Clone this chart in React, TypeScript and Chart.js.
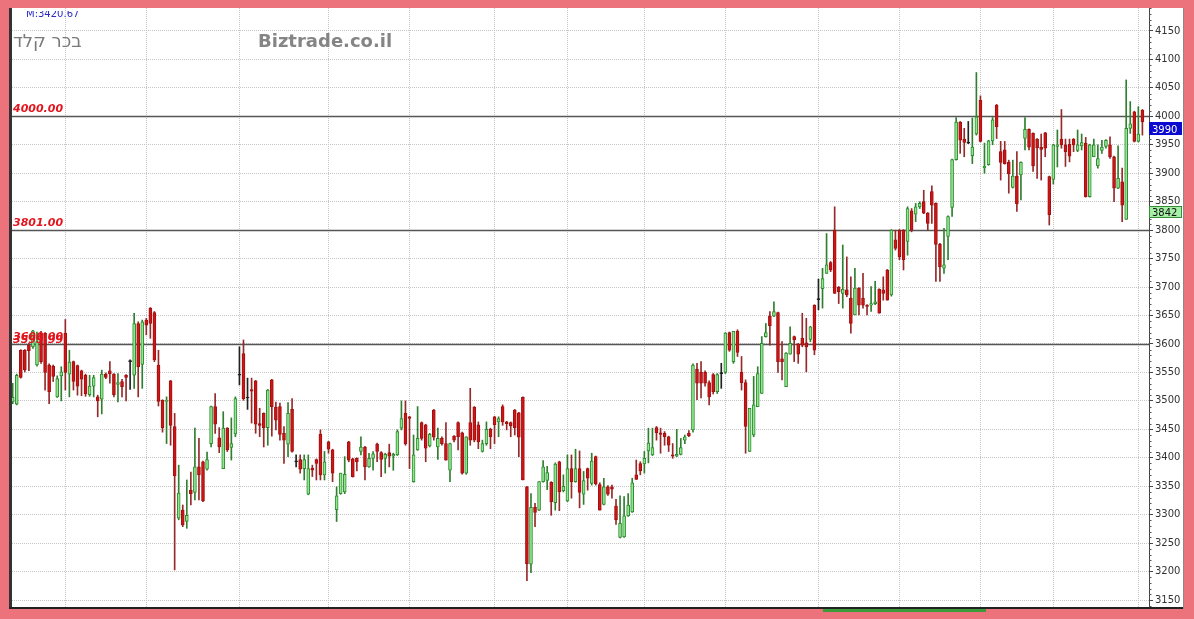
import React, { useEffect, useRef } from "react";
import { Chart, registerables } from "chart.js";

Chart.register(...registerables);

// ---------------- DATA ----------------
const opens = [
  3498,3494,3589,3589,3598,3595,3563,3619,3619,3563,
  3561,3507,3544,3619,3547,3569,3562,3553,3545,3511,
  3526,3507,3503,3547,3553,3547,3529,3534,3545,3569,
  3545,3636,3564,3642,3663,3655,3563,3501,3499,3535,
  3455,3294,3308,3288,3343,3339,3384,3393,3380,3425,
  3490,3435,3381,3452,3418,3442,3545,3583,3506,3520,
  3535,3460,3478,3453,3537,3489,3490,3443,3424,3485,
  3394,3397,3381,3336,3382,3397,3441,3370,3428,3414,
  3309,3337,3340,3428,3398,3399,3411,3419,3384,3399,
  3424,3409,3399,3409,3403,3405,3452,3478,3472,3358,
  3414,3462,3458,3421,3484,3419,3434,3425,3378,3438,
  3462,3444,3373,3462,3489,3458,3411,3425,3450,3472,
  3463,3490,3463,3462,3484,3479,3506,3349,3213,3313,
  3308,3358,3360,3357,3321,3393,3342,3324,3381,3358,
  3381,3336,3381,3355,3402,3353,3318,3349,3349,3315,
  3260,3261,3298,3305,3370,3390,3389,3412,3405,3453,
  3444,3443,3437,3405,3403,3406,3431,3443,3449,3556,
  3550,3550,3532,3546,3516,3548,3550,3620,3569,3622,
  3550,3532,3411,3440,3490,3513,3613,3649,3649,3655,
  3574,3525,3582,3613,3600,3610,3602,3608,3668,3678,
  3697,3724,3743,3800,3700,3689,3695,3680,3651,3698,
  3680,3668,3668,3671,3696,3695,3730,3686,3783,3800,
  3800,3780,3834,3828,3841,3850,3830,3868,3847,3775,
  3733,3789,3840,3924,3990,3960,3954,3931,3969,4028,
  3910,3915,3957,4020,3938,3941,3919,3875,3895,3897,
  3961,3977,3970,3960,3946,3971,3894,3889,3947,3960,
  3950,3951,3960,3940,3948,3953,3859,3929,3913,3940,
  3947,3950,3929,3874,3885,3819,3979,4008,3956,4011,
];
const highs = [
  3531,3547,3590,3590,3601,3624,3621,3622,3620,3565,
  3563,3544,3560,3643,3589,3570,3563,3554,3547,3545,
  3545,3510,3554,3549,3569,3548,3548,3538,3546,3572,
  3654,3639,3642,3645,3664,3657,3589,3502,3507,3536,
  3478,3387,3317,3361,3375,3452,3434,3394,3410,3491,
  3513,3453,3481,3453,3470,3507,3595,3607,3540,3540,
  3536,3487,3479,3520,3538,3498,3496,3455,3497,3504,
  3405,3405,3405,3405,3387,3398,3449,3411,3429,3415,
  3349,3373,3402,3429,3399,3400,3437,3420,3408,3411,
  3426,3411,3408,3424,3408,3449,3500,3500,3473,3440,
  3490,3463,3459,3443,3485,3452,3437,3462,3426,3439,
  3463,3445,3437,3522,3490,3463,3431,3463,3452,3473,
  3472,3493,3464,3463,3485,3480,3507,3350,3337,3320,
  3358,3395,3385,3358,3391,3394,3370,3405,3405,3415,
  3412,3376,3382,3408,3403,3356,3364,3351,3352,3327,
  3333,3332,3337,3364,3396,3393,3411,3452,3452,3455,
  3452,3446,3438,3425,3450,3434,3440,3448,3565,3566,
  3569,3553,3535,3548,3548,3566,3620,3621,3622,3625,
  3578,3537,3487,3543,3560,3613,3636,3657,3674,3656,
  3604,3585,3630,3614,3601,3654,3645,3631,3669,3714,
  3733,3794,3745,3841,3701,3774,3753,3718,3733,3699,
  3724,3669,3701,3710,3697,3718,3731,3801,3800,3801,
  3801,3841,3838,3847,3850,3870,3831,3878,3848,3777,
  3803,3825,3925,3998,3991,3979,3991,3997,4077,4036,
  3953,3958,3998,4021,3956,3956,3923,3923,3938,3920,
  3998,3978,3971,3961,3969,3972,3895,3951,3976,4012,
  3960,3960,3961,3976,3969,3963,3951,3960,3950,3958,
  3959,3964,3930,3948,3909,4064,4026,4009,4017,4012,
];
const lows = [
  3495,3493,3540,3551,3553,3592,3561,3566,3519,3495,
  3534,3506,3500,3519,3507,3519,3510,3509,3508,3508,
  3507,3472,3477,3539,3531,3507,3498,3507,3500,3520,
  3522,3507,3522,3616,3610,3569,3491,3445,3425,3422,
  3203,3291,3279,3276,3317,3326,3326,3323,3378,3419,
  3443,3409,3381,3411,3396,3437,3528,3501,3485,3461,
  3443,3437,3419,3422,3438,3449,3431,3390,3402,3410,
  3384,3373,3361,3335,3367,3361,3361,3361,3408,3358,
  3288,3336,3337,3393,3366,3377,3405,3361,3383,3378,
  3393,3367,3373,3384,3378,3404,3449,3422,3381,3357,
  3413,3431,3393,3419,3431,3397,3422,3396,3358,3428,
  3414,3371,3371,3422,3428,3416,3410,3422,3416,3425,
  3437,3457,3449,3437,3440,3402,3361,3184,3198,3279,
  3307,3357,3344,3299,3308,3307,3340,3323,3329,3357,
  3312,3318,3343,3352,3352,3308,3317,3334,3329,3283,
  3259,3260,3297,3304,3362,3370,3373,3391,3404,3431,
  3408,3422,3411,3399,3402,3405,3425,3437,3445,3502,
  3505,3526,3493,3512,3513,3522,3548,3587,3566,3578,
  3519,3408,3411,3437,3490,3513,3612,3598,3648,3550,
  3537,3525,3582,3569,3566,3595,3551,3604,3581,3660,
  3663,3724,3727,3689,3671,3663,3683,3619,3651,3651,
  3663,3651,3657,3669,3654,3677,3677,3684,3765,3748,
  3730,3756,3797,3815,3838,3829,3800,3812,3710,3710,
  3724,3748,3824,3923,3935,3929,3952,3917,3967,3955,
  3900,3914,3950,3961,3888,3916,3865,3874,3833,3853,
  3941,3941,3903,3891,3888,3929,3809,3881,3911,3944,
  3912,3920,3938,3938,3941,3858,3858,3929,3909,3935,
  3944,3926,3850,3873,3815,3819,3970,3955,3955,3967,
];
const closes = [
  3506,3545,3541,3555,3588,3623,3604,3569,3550,3516,
  3543,3539,3551,3550,3568,3534,3526,3538,3512,3526,
  3541,3500,3547,3541,3548,3511,3532,3525,3541,3570,
  3636,3560,3639,3633,3636,3572,3499,3453,3501,3457,
  3368,3338,3282,3299,3337,3384,3370,3324,3397,3490,
  3459,3419,3452,3414,3425,3504,3546,3504,3505,3517,
  3459,3457,3453,3519,3490,3466,3441,3431,3478,3411,
  3393,3380,3397,3381,3378,3390,3370,3393,3415,3373,
  3333,3373,3371,3396,3367,3393,3419,3384,3399,3407,
  3411,3397,3406,3403,3406,3446,3469,3425,3469,3405,
  3434,3434,3417,3441,3436,3434,3425,3396,3425,3431,
  3437,3373,3437,3431,3431,3428,3425,3450,3437,3458,
  3469,3463,3460,3456,3453,3436,3361,3214,3313,3304,
  3358,3384,3374,3323,3389,3340,3350,3381,3358,3381,
  3339,3360,3364,3394,3354,3308,3349,3336,3345,3291,
  3285,3298,3317,3356,3362,3377,3399,3426,3418,3444,
  3441,3437,3422,3403,3406,3418,3437,3439,3563,3531,
  3531,3531,3507,3516,3546,3549,3619,3589,3622,3585,
  3532,3455,3487,3493,3548,3601,3620,3632,3657,3569,
  3569,3584,3601,3607,3582,3598,3595,3630,3589,3679,
  3715,3739,3730,3689,3692,3696,3686,3636,3698,3668,
  3668,3666,3671,3674,3654,3689,3677,3800,3768,3753,
  3748,3838,3800,3841,3847,3830,3812,3844,3775,3736,
  3739,3824,3924,3990,3958,3954,3953,3946,3999,3956,
  3912,3957,3994,3982,3919,3917,3899,3895,3846,3919,
  3977,3946,3913,3945,3942,3944,3827,3950,3950,3950,
  3938,3930,3950,3950,3954,3859,3950,3950,3926,3946,
  3958,3929,3874,3891,3844,3979,3987,3956,3969,3990,
];

// candle indices where the vertical (period) grid lines fall
const periodGridIdx = [13, 33, 56, 78, 98, 119, 137, 156, 176, 199, 219, 239, 257, 278];
// right-axis tick labels
const yTickValues = [3150,3200,3250,3300,3350,3400,3450,3500,3550,3600,3650,3700,3750,3800,3850,3900,3950,4000,4050,4100,4150];
// horizontal level lines and their tags
const levelValues = [4000, 3801, 3600];
const levelTagValues = [4000, 3801, 3600, 3599.99];
const levelTagTexts = ["4000.00", "3801.00", "3600.00", "3599.99"];
// price boxes on the right axis
const lastPrice = 3990;
const secondPrice = 3842;

const stockName = "דלק רכב";
const siteName = "Biztrade.co.il";
const topInfo = "M:3420.67";

// ---------------- STYLE ----------------
const W = 1194;
const H = 619;
const PINK = "#ec737b";
const GREEN_FILL = "#8fe88f";
const GREEN_LINE = "#2f8a2f";
const RED_FILL = "#cf1515";
const RED_LINE = "#a01010";
const RED_WICK = "#962a2a";
const GREEN_WICK = "#2f7f2f";
const DOJI = "#222222";
const FONT = "'DejaVu Sans', Verdana, sans-serif";

const kind = opens.map((o, i) => {
  const c = closes[i];
  if (Math.abs(c - o) <= 1) return "d";
  return c > o ? "g" : "r";
});

const decorPlugin = {
  id: "decor",
  beforeDraw(chart: any) {
    const { ctx } = chart;
    ctx.save();
    ctx.fillStyle = PINK;
    ctx.fillRect(0, 0, chart.width, chart.height);
    ctx.fillStyle = "#ffffff";
    ctx.fillRect(9, 8, 1175, 601);
    ctx.restore();
  },
  beforeDatasetsDraw(chart: any) {
    const { ctx, chartArea: a } = chart;
    const y = chart.scales.y;
    ctx.save();
    ctx.strokeStyle = "#555555";
    ctx.lineWidth = 1.5;
    levelValues.forEach((v) => {
      const py = Math.round(y.getPixelForValue(v)) + 0.5;
      ctx.beginPath();
      ctx.moveTo(a.left, py);
      ctx.lineTo(a.right, py);
      ctx.stroke();
    });
    ctx.restore();
  },
  afterDraw(chart: any) {
    const { ctx, chartArea: a } = chart;
    const y = chart.scales.y;
    ctx.save();

    // frame lines
    ctx.fillStyle = "#333333";
    ctx.fillRect(9, 8, 3, 601);
    ctx.fillStyle = "#222222";
    ctx.fillRect(9, 607, 1175, 2);
    ctx.fillStyle = "#8a8a8a";
    ctx.fillRect(1183, 8, 1, 601);
    ctx.fillStyle = "#3c9c3c";
    ctx.fillRect(823, 609, 163, 3);

    // minor ticks every 10
    ctx.strokeStyle = "#555555";
    ctx.lineWidth = 1;
    for (let v = 3140; v <= 4190; v += 10) {
      if (v % 50 === 0) continue;
      const py = Math.round(y.getPixelForValue(v)) + 0.5;
      if (py < a.top || py > a.bottom) continue;
      ctx.beginPath();
      ctx.moveTo(a.right, py);
      ctx.lineTo(a.right + 2.5, py);
      ctx.stroke();
    }

    // level tags
    ctx.font = `italic bold 11px ${FONT}`;
    ctx.fillStyle = "#e3141c";
    ctx.textAlign = "left";
    ctx.textBaseline = "alphabetic";
    levelTagValues.forEach((v, i) => {
      const py = y.getPixelForValue(v);
      const off = i === 3 ? -1 : -4;
      ctx.fillText(levelTagTexts[i], 13, py + off);
    });

    // price boxes
    const boxX = a.right;
    const boxW = 33;
    const py1 = Math.round(y.getPixelForValue(lastPrice));
    ctx.fillStyle = "#0a0ad0";
    ctx.fillRect(boxX, py1, boxW, 13);
    ctx.fillStyle = "#ffffff";
    ctx.font = `10px ${FONT}`;
    ctx.fillText(String(lastPrice), boxX + 3, py1 + 10.5);

    const py2 = Math.round(y.getPixelForValue(secondPrice));
    ctx.fillStyle = "#a6f0a6";
    ctx.fillRect(boxX, py2, boxW, 12);
    ctx.strokeStyle = "#3a8a3a";
    ctx.strokeRect(boxX + 0.5, py2 + 0.5, boxW - 1, 11);
    ctx.fillStyle = "#111111";
    ctx.fillText(String(secondPrice), boxX + 3, py2 + 10);

    // header texts, clipped to the white panel
    ctx.save();
    ctx.beginPath();
    ctx.rect(12, 11, a.right - 12, 40);
    ctx.clip();
    ctx.font = `10px ${FONT}`;
    ctx.fillStyle = "#2a2ac8";
    ctx.fillText(topInfo, 26, 17);
    ctx.restore();

    ctx.font = `18px ${FONT}`;
    ctx.fillStyle = "#7a7a7a";
    // the source draws the Hebrew glyphs in left-to-right visual order
    ctx.fillText("\u202D" + stockName + "\u202C", 13, 47);
    ctx.font = `bold 18px ${FONT}`;
    ctx.fillStyle = "#858585";
    ctx.fillText(siteName, 258, 47);

    ctx.restore();
  },
};

export default function App() {
  const ref = useRef<HTMLCanvasElement | null>(null);

  useEffect(() => {
    document.body.style.margin = "0";
    const canvas = ref.current;
    if (!canvas) return;

    const bodyData = opens.map((o, i) => ({ x: i, y: [o, closes[i]] }));
    const wickData = lows.map((l, i) => ({ x: i, y: [l, highs[i]] }));

    const chart = new Chart(canvas, {
      type: "bar",
      data: {
        datasets: [
          {
            label: "body",
            data: bodyData as any,
            backgroundColor: kind.map((k) => (k === "g" ? GREEN_FILL : k === "r" ? RED_FILL : DOJI)),
            borderColor: kind.map((k) => (k === "g" ? GREEN_LINE : k === "r" ? RED_LINE : DOJI)),
            borderWidth: 1,
            borderSkipped: false,
            barThickness: 3,
            minBarLength: 1,
            grouped: false,
            order: 0,
          } as any,
          {
            label: "wick",
            data: wickData as any,
            backgroundColor: kind.map((k) => (k === "g" ? GREEN_WICK : k === "r" ? RED_WICK : DOJI)),
            borderWidth: 0,
            barThickness: 1,
            grouped: false,
            order: 1,
          } as any,
        ],
      },
      options: {
        responsive: false,
        animation: false,
        devicePixelRatio: 1,
        layout: { padding: { left: 12, top: 8, right: 0, bottom: 0 } },
        plugins: {
          legend: { display: false },
          tooltip: { enabled: false },
        },
        scales: {
          x: {
            type: "linear",
            min: -0.17,
            max: 280.63,
            offset: false,
            afterBuildTicks: (s: any) => {
              s.ticks = periodGridIdx.map((v) => ({ value: v }));
            },
            afterFit: (s: any) => {
              s.height = 11;
            },
            ticks: { display: false },
            grid: { color: "#c6c6c6", drawTicks: false, offset: false },
            border: { display: false, dash: [1, 1] },
          },
          y: {
            type: "linear",
            position: "right",
            min: 3136,
            max: 4190.4,
            afterBuildTicks: (s: any) => {
              s.ticks = yTickValues.map((v) => ({ value: v }));
            },
            afterFit: (s: any) => {
              s.width = 45;
            },
            ticks: {
              color: "#333333",
              font: { family: FONT, size: 10 },
              padding: 2,
              callback: (v: any) => String(v),
            },
            grid: { color: "#c6c6c6", tickColor: "#444444", tickLength: 4, drawTicks: true },
            border: { display: true, color: "#444444", width: 1, dash: [1, 1] },
          },
        },
      } as any,
      plugins: [decorPlugin],
    });

    return () => chart.destroy();
  }, []);

  return (
    <div style={{ width: W, height: H, position: "relative", overflow: "hidden" }}>
      <canvas ref={ref} width={W} height={H} style={{ display: "block", width: W, height: H }} />
    </div>
  );
}
